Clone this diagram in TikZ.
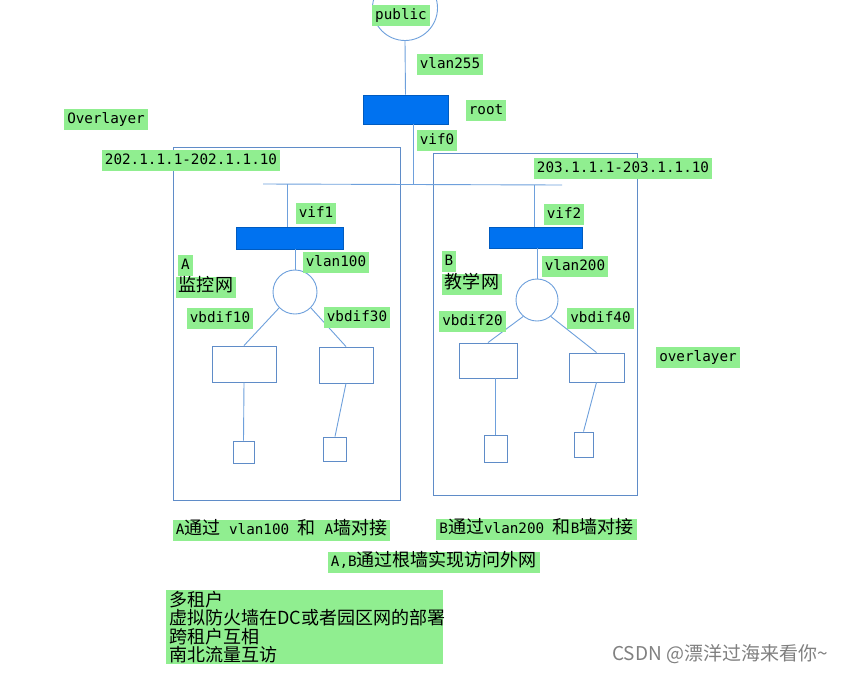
\documentclass[tikz,border=0pt]{standalone}
\usepackage{fontspec}
\newfontfamily\mono{DejaVu Sans Mono}
\newfontfamily\cjk{Noto Sans CJK SC}[Scale=1.26]
\newfontfamily\wmark{Noto Sans CJK SC}
\definecolor{lblgreen}{RGB}{144,238,144}
\definecolor{wire}{RGB}{110,160,220}
\definecolor{edge}{RGB}{95,140,200}
\definecolor{fwblue}{RGB}{0,114,240}

\begin{document}
\begin{tikzpicture}[x=1pt,y=-1pt,
    lbl/.style={fill=lblgreen,font=\mono\fontsize{14.3}{16}\selectfont,
        inner xsep=3pt,inner ysep=2.5pt,text height=12pt,text depth=4pt},
    fw/.style={rectangle,fill=fwblue,draw=fwblue!80!black,line width=0.6pt},
    sw/.style={circle,draw=wire,line width=0.9pt},
    host/.style={rectangle,draw=edge,line width=0.9pt},
    link/.style={draw=wire,line width=0.9pt}]
    \useasboundingbox[fill=white] (0,0) rectangle (847,673);

        % tenant areas
        \draw[edge,line width=0.9pt] (173,147) rectangle (400,500);
        \draw[edge,line width=0.9pt] (433,153) rectangle (637,495);

        % devices
        \draw (405,8) node[sw,minimum size=65] (pub) {};
        \draw (405.5,109.5) node[fw,minimum width=85,minimum height=29] (rootfw) {};
        \draw (289.5,238) node[fw,minimum width=107,minimum height=22] (fwA) {};
        \draw (535.5,237.5) node[fw,minimum width=93,minimum height=21] (fwB) {};
        \draw (295,292) node[sw,minimum size=44] (swA) {};
        \draw (537,300) node[sw,minimum size=42] (swB) {};
        \draw (244,364) node[host,minimum width=64,minimum height=36] (hostA1) {};
        \draw (346,365) node[host,minimum width=54,minimum height=36] (hostA2) {};
        \draw (488,360.5) node[host,minimum width=58,minimum height=35] (hostB1) {};
        \draw (596.5,367.5) node[host,minimum width=55,minimum height=29] (hostB2) {};
        \draw (243.5,452) node[host,minimum width=21,minimum height=22] (vmA1) {};
        \draw (335,449) node[host,minimum width=23,minimum height=24] (vmA2) {};
        \draw (495.5,448.5) node[host,minimum width=23,minimum height=27] (vmB1) {};
        \draw (583.5,444.5) node[host,minimum width=19,minimum height=25] (vmB2) {};

        % bus
        \coordinate (busL) at (263,184);
        \coordinate (busR) at (562,185);
        \coordinate (bus0) at (413,184);
        \coordinate (bus1) at (287,184);
        \coordinate (bus2) at (534,185);
        \draw[link] (busL)--(busR);

        % links
        \draw[link] (pub.south)--(rootfw.north);
        \draw[link] (bus0 |- rootfw.south)--(bus0);
        \draw[link] (bus1)--(bus1 |- fwA.north);
        \draw[link] (bus2)--(bus2 |- fwB.north);
        \draw[link] (swA |- fwA.south)--(swA.north);
        \draw[link] (swB |- fwB.south)--(swB.north);
        \draw[link] (swA.225)--(hostA1.north);
        \draw[link] (swA.-45)--(hostA2.north);
        \draw[link] (swB.230)--(hostB1.north);
        \draw[link] (swB.-50)--(hostB2.north);
        \draw[link] (hostA1.south)--(vmA1.north);
        \draw[link] (hostA2.south)--(vmA2.north);
        \draw[link] (vmB1 |- hostB1.south)--(vmB1.north);
        \draw[link] (hostB2.south)--(vmB2.north);

        % labels
        \draw (401,15) node[lbl] (pubL) {public};
        \draw (450,64) node[lbl] (vlan255L) {vlan255};
        \draw (486,110) node[lbl] (rootL) {root};
        \draw (437,140) node[lbl] (vif0L) {vif0};
        \draw (106,119) node[lbl] (ovlL) {Overlayer};
        \draw (191,160) node[lbl] (rangeA) {202.1.1.1-202.1.1.10};
        \draw (623,168) node[lbl] (rangeB) {203.1.1.1-203.1.1.10};
        \draw (316,213) node[lbl] (vif1L) {vif1};
        \draw (336,262) node[lbl] (vlan100L) {vlan100};
        \draw (185.5,265.5) node[lbl] (tenAL) {A};
        \draw (206,287.5) node[lbl] (tenAname) {\cjk 监控网};
        \draw (220,318.5) node[lbl] (vbdif10L) {vbdif10};
        \draw (357,317.5) node[lbl] (vbdif30L) {vbdif30};
        \draw (564,214.5) node[lbl] (vif2L) {vif2};
        \draw (575,266) node[lbl] (vlan200L) {vlan200};
        \draw (449,261.5) node[lbl] (tenBL) {B};
        \draw (472,284.5) node[lbl] (tenBname) {\cjk 教学网};
        \draw (472.5,321) node[lbl] (vbdif20L) {vbdif20};
        \draw (600.5,318.5) node[lbl] (vbdif40L) {vbdif40};
        \draw (698,357) node[lbl] (ovl2L) {overlayer};

        % notes
        \draw (281.5,530) node[lbl] (noteA) {A{\cjk 通过} vlan100 {\cjk 和} A{\cjk 墙对接}};
        \draw (536.5,529) node[lbl] (noteB) {B{\cjk 通过}vlan200 {\cjk 和}B{\cjk 墙对接}};
        \draw (434,562.5) node[lbl] (noteAB) {A,B{\cjk 通过根墙实现访问外网}};
        \draw (166,590) node[anchor=north west,fill=lblgreen,minimum height=74,
            text width=271,inner xsep=3pt,inner ysep=0pt,align=left,
            font=\cjk\fontsize{14.3}{18.5}\selectfont] (summary)
            {多租户\\虚拟防火墙在DC或者园区网的部署\\跨租户互相\\南北流量互访};
        \draw (720,654) node[text=black!50,font=\wmark\fontsize{19}{20}\selectfont] (wm)
            {CSDN @漂洋过海来看你\textasciitilde};
    \end{tikzpicture}
\end{document}
